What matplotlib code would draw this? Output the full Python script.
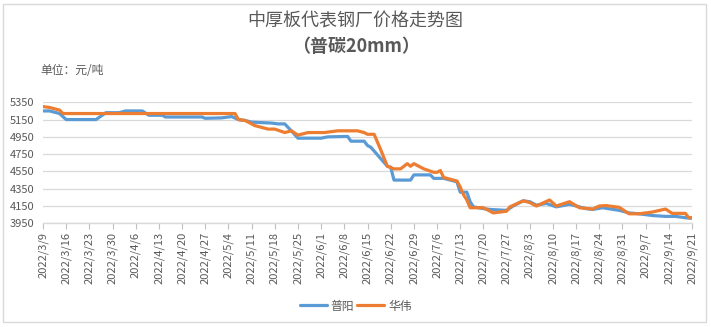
import matplotlib
matplotlib.use("Agg")
import matplotlib.pyplot as plt
from matplotlib.patches import Rectangle
import pandas as pd

plt.rcParams['font.family'] = ['Noto Sans CJK SC', 'DejaVu Sans']

# 普阳 price points (date, yuan/ton)
puyang_dates = ["3/9", "3/11", "3/14", "3/16", "3/25", "3/28", "4/1", "4/3", "4/8", "4/10",
                "4/14", "4/15", "4/26", "4/27", "5/2", "5/5", "5/7", "5/9", "5/11", "5/17",
                "5/19", "5/21", "5/23", "5/25", "6/1", "6/3", "6/9", "6/10", "6/14", "6/15",
                "6/16", "6/21", "6/22", "6/23", "6/28", "6/29", "7/4", "7/5", "7/8", "7/12",
                "7/13", "7/15", "7/16", "7/17", "7/20", "7/22", "7/27", "7/29", "8/1", "8/3",
                "8/5", "8/8", "8/11", "8/15", "8/16", "8/20", "8/22", "8/25", "8/30", "9/2",
                "9/5", "9/9", "9/13", "9/16", "9/20", "9/21"]
puyang_prices = [5250, 5250, 5220, 5150, 5150, 5230, 5230, 5250, 5250, 5200,
                 5200, 5180, 5180, 5165, 5170, 5185, 5150, 5140, 5120, 5110,
                 5100, 5100, 5020, 4935, 4935, 4950, 4955, 4900, 4900, 4850,
                 4830, 4610, 4600, 4450, 4450, 4510, 4510, 4470, 4470, 4430,
                 4310, 4310, 4200, 4140, 4120, 4110, 4100, 4150, 4210, 4200,
                 4160, 4180, 4140, 4170, 4160, 4120, 4110, 4130, 4100, 4070,
                 4060, 4040, 4030, 4030, 4010, 4010]

# 华伟 price points
huawei_dates = ["3/9", "3/11", "3/14", "3/15", "5/6", "5/7", "5/9", "5/11", "5/12", "5/14",
                "5/16", "5/18", "5/21", "5/23", "5/25", "5/28", "6/2", "6/6", "6/12", "6/14",
                "6/15", "6/17", "6/19", "6/21", "6/23", "6/25", "6/26", "6/27", "6/28", "6/29",
                "7/2", "7/5", "7/6", "7/7", "7/8", "7/12", "7/13", "7/14", "7/15", "7/16",
                "7/20", "7/23", "7/27", "7/28", "8/1", "8/3", "8/5", "8/9", "8/11", "8/15",
                "8/18", "8/22", "8/24", "8/26", "8/30", "9/2", "9/5", "9/9", "9/13", "9/15",
                "9/19", "9/20", "9/21"]
huawei_prices = [5300, 5290, 5260, 5220, 5220, 5150, 5140, 5100, 5080, 5060,
                 5040, 5040, 5000, 5020, 4970, 5000, 5000, 5020, 5020, 5000,
                 4980, 4980, 4800, 4610, 4580, 4580, 4610, 4640, 4610, 4640,
                 4580, 4540, 4540, 4560, 4480, 4440, 4370, 4280, 4220, 4130,
                 4130, 4070, 4090, 4140, 4210, 4190, 4150, 4220, 4150, 4200,
                 4130, 4115, 4150, 4155, 4135, 4060, 4060, 4080, 4115, 4065,
                 4065, 4015, 4015]

y_ticks = [3950, 4150, 4350, 4550, 4750, 4950, 5150, 5350]


def to_dates(md):
    return pd.to_datetime(["2022/" + s for s in md], format="%Y/%m/%d")


text_gray = "#595959"
grid_gray = "#d9d9d9"

fig = plt.figure(figsize=(7.11, 3.27), dpi=100)
ax = fig.add_axes([43 / 711, 1 - 223.3 / 327, (692 - 43) / 711, 121 / 327])

ax.plot(to_dates(puyang_dates), puyang_prices, color="#5B9BD5", lw=2.3,
        label="普阳", solid_joinstyle="round", solid_capstyle="round")
ax.plot(to_dates(huawei_dates), huawei_prices, color="#ED7D31", lw=2.3,
        label="华伟", solid_joinstyle="round", solid_capstyle="round")

start, end = pd.Timestamp("2022-03-09"), pd.Timestamp("2022-09-21")
ax.set_xlim(start, end)
ax.set_ylim(y_ticks[0], y_ticks[-1])
ax.set_yticks(y_ticks)

weeks = pd.date_range(start, end, freq="7D")
ax.set_xticks(weeks)
ax.set_xticklabels([f"{d.year}/{d.month}/{d.day}" for d in weeks],
                   rotation=90, fontsize=8, color=text_gray)
ax.tick_params(axis="x", direction="out", length=4, color="#bfbfbf", pad=2)
ax.tick_params(axis="y", length=0, labelsize=8, labelcolor=text_gray, pad=6)

ax.grid(axis="y", color=grid_gray, lw=0.9)
ax.set_axisbelow(True)
for side in ("left", "right", "top"):
    ax.spines[side].set_visible(False)
ax.spines["bottom"].set_color(grid_gray)
ax.spines["bottom"].set_linewidth(1)

fig.text(0.5, 1 - 22 / 327, "中厚板代表钢厂价格走势图", ha="center", va="center",
         fontsize=13, color=text_gray, fontweight="medium")
fig.text(0.5, 1 - 46 / 327, "（普碳20mm）", ha="center", va="center",
         fontsize=13, color=text_gray, fontweight="bold")
fig.text(40 / 711, 1 - 70 / 327, "单位：元/吨", ha="left", va="center",
         fontsize=8.5, color=text_gray)

fig.legend(loc="center", bbox_to_anchor=(0.5, 1 - 306 / 327), ncol=2, frameon=False,
           fontsize=8.5, labelcolor=text_gray, handlelength=2.3, handletextpad=0.3,
           columnspacing=0.3)

fig.patches.append(Rectangle((3 / 711, 1 - 322 / 327), 703 / 711, 318 / 327,
                             transform=fig.transFigure, fill=False,
                             edgecolor=grid_gray, lw=1))

fig.savefig("out.png", dpi=100)
